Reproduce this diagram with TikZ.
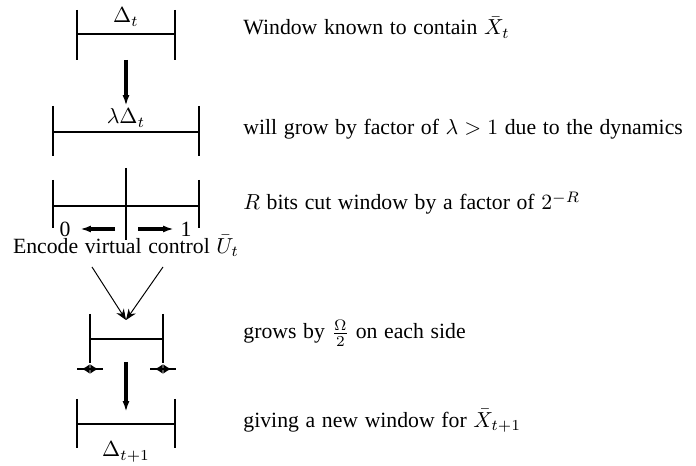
\documentclass[tikz,border=0pt]{standalone}
\usepackage{fontspec}
\setmainfont[WordSpace=1.22]{Liberation Serif}
\usetikzlibrary{arrows.meta,positioning,calc}

\begin{document}
\begin{tikzpicture}[x=0.46pt,y=-0.46pt] % one unit is one pixel of the sketch, y runs down
\tikzset{bar/.style={line width=1.3pt}}
\tikzset{flow/.style={line width=1.4pt,-{Latex[length=5pt,width=3.2pt]}}}
\tikzset{ray/.style={line width=0.45pt,-{Stealth[length=5pt,width=4pt]}}}
\tikzset{wide/.style={line width=0.7pt,{Latex[length=3.5pt,width=4.5pt]}-{Latex[length=3.5pt,width=4.5pt]}}}
\tikzset{note/.style={anchor=base west,inner sep=0pt}}
\tikzset{lbl/.style={anchor=base,inner sep=0pt}}
\useasboundingbox (0,0) rectangle (696,466);

% window known at time t
\draw[bar] (77,10) -- (77,60) (175,10) -- (175,60) (77,34) -- (175,34);
\node[lbl] (wa) at (126,23) {$\Delta_t$};
\node[note] (na) at (243,35) {Window known to contain $\bar{X}_t$};

\coordinate (fa) at (126,60);
\coordinate (ta) at (126,106);
\draw[flow] (fa) -- (ta);

% grown window
\draw[bar] (53,106) -- (53,156) (199,106) -- (199,156) (53,132) -- (199,132);
\node[lbl] (wb) at (126,124) {$\lambda\Delta_t$};
\node[note] (nb) at (243,135) {will grow by factor of $\lambda > 1$ due to the dynamics};

% cut window
\draw[bar] (53,180) -- (53,228) (199,180) -- (199,228) (53,206) -- (199,206);
\draw[bar] (126,168) -- (126,240);
\node (zero) at (65,229) {0};
\node (one) at (186,229) {1};
\coordinate (fl) at (115,229);
\coordinate (tl) at (80,229);
\coordinate (fr) at (138,229);
\coordinate (tr) at (174,229);
\draw[flow] (fl) -- (tl);
\draw[flow] (fr) -- (tr);
\node[note] (nc) at (243,210) {$R$ bits cut window by a factor of $2^{-R}$};

\node (enc) at (126,246) {Encode virtual control $\bar{U}_t$};
\coordinate (vl) at (92,267);
\coordinate (vr) at (163,267);
\coordinate (meet) at (126,320);
\draw[ray] (vl) -- (meet);
\draw[ray] (vr) -- (meet);

% small window plus noise
\draw[bar] (90,314) -- (90,363) (163,314) -- (163,363) (90,339) -- (163,339);
\draw[bar] (77,369) -- (103,369) (150,369) -- (176,369);
\draw[wide] (82,369) -- (98,369);
\draw[wide] (155,369) -- (171,369);
\node[note] (nd) at (243,339) {grows by $\frac{\Omega}{2}$ on each side};

\coordinate (fb) at (126,362);
\coordinate (tb) at (126,412);
\draw[flow] (fb) -- (tb);

% window at time t+1
\draw[bar] (77,399) -- (77,448) (175,399) -- (175,448) (77,424) -- (175,424);
\node[lbl] (we) at (126,457) {$\Delta_{t+1}$};
\node[note] (ne) at (243,427) {giving a new window for $\bar{X}_{t+1}$};
\end{tikzpicture}
\end{document}
